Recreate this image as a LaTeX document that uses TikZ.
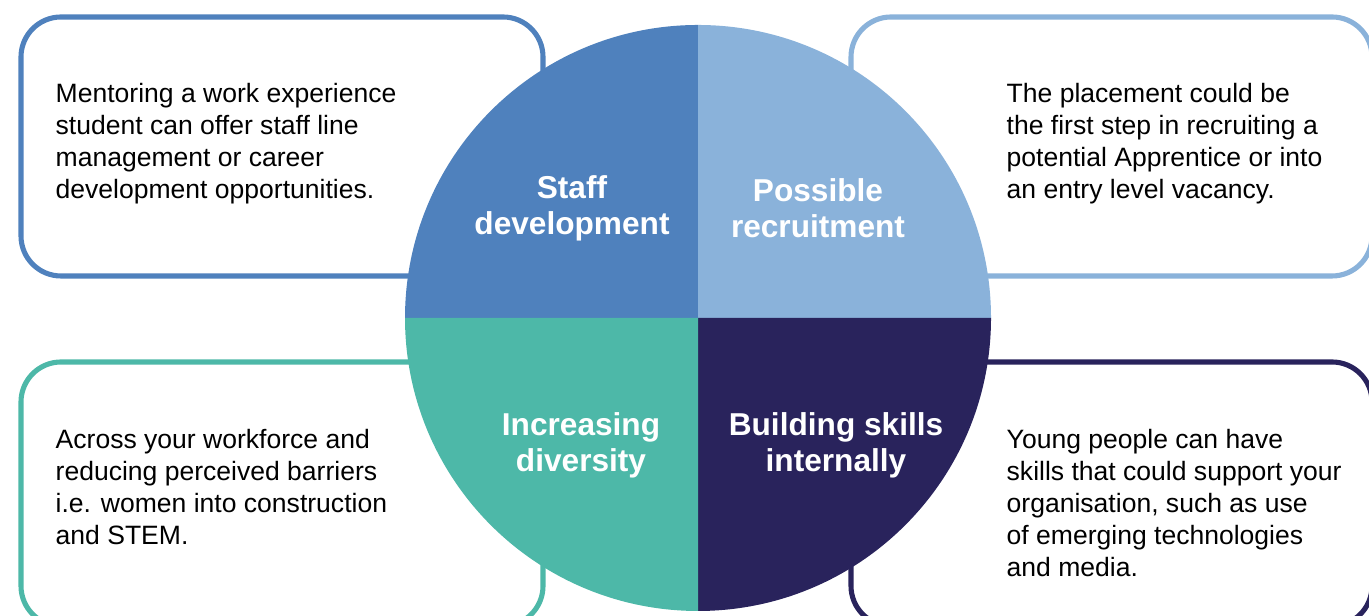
\documentclass[tikz,border=0pt]{standalone}
\usepackage{fontspec}
\setmainfont{Liberation Sans}
\usepackage{tikz}

\definecolor{staffblue}{RGB}{79,129,189}
\definecolor{recruitblue}{RGB}{138,178,218}
\definecolor{diversityteal}{RGB}{77,184,168}
\definecolor{skillsnavy}{RGB}{41,35,92}

\tikzset{
  infobox/.style={line width=1.45pt, rounded corners=0.4cm, fill=white},
  infotext/.style={anchor=north west, align=left, inner sep=0pt, font=\fontsize{7.55}{9.1}\selectfont},
  quadlabel/.style={align=center, text=white, inner sep=0pt, font=\bfseries\fontsize{9}{10.3}\selectfont}
}

\begin{document}
\begin{tikzpicture}
\useasboundingbox (0,0) rectangle (13.69,6.16);
\clip (0,0) rectangle (13.69,6.16);

\draw[infobox, draw=staffblue] (0.21,3.40) rectangle (5.43,5.99);
\draw[infobox, draw=recruitblue] (8.51,3.40) rectangle (13.72,5.99);
\draw[infobox, draw=diversityteal] (0.21,-0.10) rectangle (5.43,2.54);
\draw[infobox, draw=skillsnavy] (8.51,-0.10) rectangle (13.72,2.54);

\coordinate (O) at (6.98,2.98);
\fill[staffblue] (O) -- ++(-2.93,0) arc[start angle=180, end angle=90, radius=2.93] -- cycle;
\fill[recruitblue] (O) -- ++(0,2.93) arc[start angle=90, end angle=0, radius=2.93] -- cycle;
\fill[skillsnavy] (O) -- ++(2.93,0) arc[start angle=0, end angle=-90, radius=2.93] -- cycle;
\fill[diversityteal] (O) -- ++(0,-2.93) arc[start angle=270, end angle=180, radius=2.93] -- cycle;

\node[quadlabel] (staff) at (5.72,4.08) {Staff\\development};
\node[quadlabel] (recruit) at (8.18,4.08) {Possible\\recruitment};
\node[quadlabel] (diversity) at (5.81,1.71) {Increasing\\diversity};
\node[quadlabel] (skills) at (8.36,1.71) {Building skills\\internally};

\node[infotext] (stafftext) at (0.55,5.33) {Mentoring a work experience\\student can offer staff line\\management or career\\development opportunities.};
\node[infotext] (recruittext) at (10.06,5.33) {The placement could be\\the first step in recruiting a\\potential Apprentice or into\\an entry level vacancy.};
\node[infotext] (diversitytext) at (0.55,1.87) {Across your workforce and\\reducing perceived barriers\\i.e. women into construction\\and STEM.};
\node[infotext] (skillstext) at (10.06,1.87) {Young people can have\\skills that could support your\\organisation, such as use\\of emerging technologies\\and media.};

\end{tikzpicture}
\end{document}
